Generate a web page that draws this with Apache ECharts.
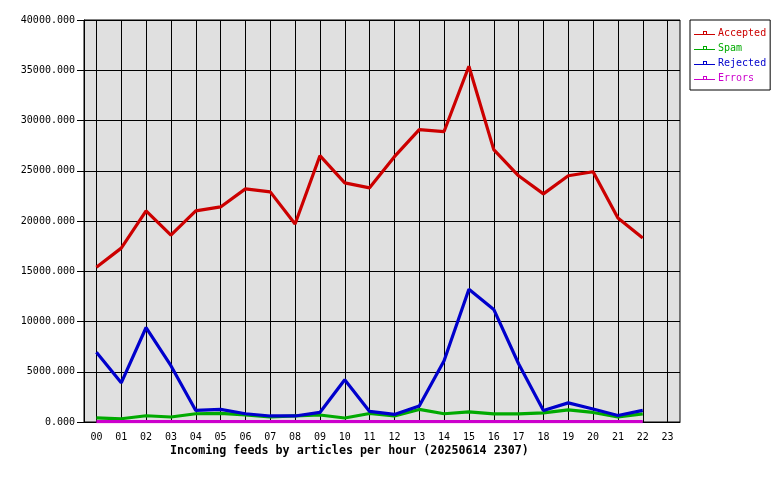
<!DOCTYPE html>
<html>
<head>
<meta charset="utf-8">
<script src="https://cdn.jsdelivr.net/npm/echarts@6/dist/echarts.min.js"></script>
<style>html,body{margin:0;padding:0;background:#fff}#c{width:780px;height:480px}</style>
</head>
<body>
<div id="c"></div>
<script>
const hours = ['00','01','02','03','04','05','06','07','08','09','10','11','12','13','14','15','16','17','18','19','20','21','22','23'];
const accepted = [15400,17300,21000,18600,21000,21400,23200,22900,19700,26500,23800,23300,26400,29100,28900,35400,27100,24500,22700,24500,24900,20300,18300,null];
const spam     = [420,320,620,500,820,850,700,500,600,700,400,850,600,1250,820,1000,800,800,900,1200,950,500,800,null];
const rejected = [6950,3900,9400,5600,1150,1250,820,600,600,950,4200,1050,750,1600,6100,13200,11200,5800,1150,1900,1300,650,1150,null];
const errors   = [40,40,40,40,40,40,40,40,40,40,40,40,40,40,40,40,40,40,40,40,40,40,40,null];
const yTicks = { min: 0, max: 40000, interval: 5000 };
const titleText = 'Incoming feeds by articles per hour (20250614 2307)';

const mono = 'DejaVu Sans Mono';
const icon = 'path://M0,6h21v1h-21z M9,3h4v1h-4z M9,3h1v3h-1z M12,3h1v3h-1z';
function mk(name, data, color) {
  return {
    name: name, type: 'line', data: data, symbol: 'none', showSymbol: false,
    lineStyle: { color: color, width: 3.2 }, itemStyle: { color: color },
    emphasis: { disabled: true }, animation: false, connectNulls: false
  };
}
const chart = echarts.init(document.getElementById('c'), null, { renderer: 'canvas' });
chart.setOption({
  animation: false,
  backgroundColor: '#fff',
  title: {
    text: titleText, left: 170, top: 445, padding: 0,
    textStyle: { fontFamily: mono, fontWeight: 'bold', fontSize: 11.7, color: '#000' }
  },
  legend: {
    orient: 'vertical', left: 690, top: 20, padding: [8, 4, 7, 4],
    borderColor: '#000', borderWidth: 1, borderRadius: 0,
    itemWidth: 21, itemHeight: 4, itemGap: 5,
    icon: icon, selectedMode: false,
    textStyle: { fontFamily: mono, fontSize: 10, lineHeight: 10, padding: [0, 0, 0, -2] },
    data: [
      { name: 'Accepted', textStyle: { color: '#cc0000' } },
      { name: 'Spam', textStyle: { color: '#00aa00' } },
      { name: 'Rejected', textStyle: { color: '#0000cc' } },
      { name: 'Errors', textStyle: { color: '#cc00cc' } }
    ]
  },
  grid: {
    left: 84, right: 100, top: 20, bottom: 58, containLabel: false,
    show: true, backgroundColor: '#e0e0e0', borderColor: '#000', borderWidth: 1
  },
  xAxis: {
    type: 'category', data: hours, boundaryGap: true,
    axisLine: { lineStyle: { color: '#000', width: 1 } },
    axisTick: { show: false },
    axisLabel: { color: '#000', fontFamily: mono, fontSize: 10, margin: 10, interval: 0 },
    splitLine: { show: true, alignWithLabel: true, interval: 0, lineStyle: { color: '#000', width: 1 } }
  },
  yAxis: {
    type: 'value', min: yTicks.min, max: yTicks.max, interval: yTicks.interval,
    axisLine: { show: true, lineStyle: { color: '#000', width: 1 } },
    axisTick: { show: true, length: 7, lineStyle: { color: '#000' } },
    axisLabel: { color: '#000', fontFamily: mono, fontSize: 10, margin: 9,
      formatter: v => v.toFixed(3) },
    splitLine: { show: true, lineStyle: { color: '#000', width: 1 } }
  },
  series: [
    mk('Accepted', accepted, '#cc0000'),
    mk('Spam', spam, '#00aa00'),
    mk('Rejected', rejected, '#0000cc'),
    mk('Errors', errors, '#cc00cc')
  ]
});
</script>
</body>
</html>
